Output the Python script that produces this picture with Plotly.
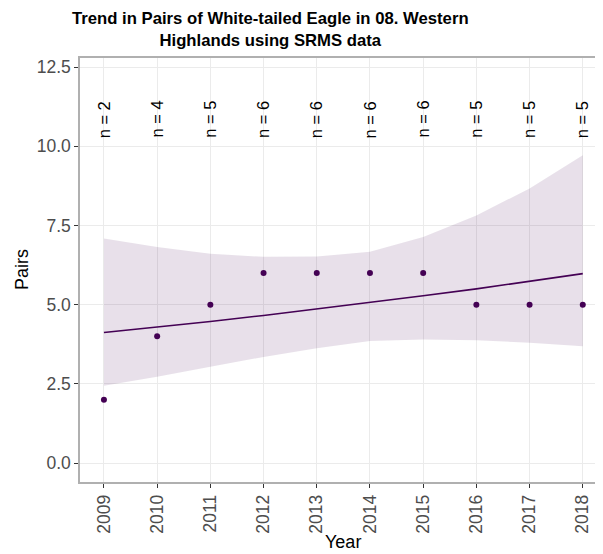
import plotly.graph_objects as go

years = [2009, 2010, 2011, 2012, 2013, 2014, 2015, 2016, 2017, 2018]
pairs = [2, 4, 5, 6, 6, 6, 6, 5, 5, 5]
n_labels = ["n = 2", "n = 4", "n = 5", "n = 6", "n = 6", "n = 6", "n = 6", "n = 5", "n = 5", "n = 5"]
fit = [4.12, 4.29, 4.47, 4.66, 4.86, 5.06, 5.28, 5.50, 5.73, 5.98]
ci_low = [2.44, 2.72, 3.04, 3.35, 3.62, 3.85, 3.90, 3.88, 3.80, 3.69]
ci_high = [7.09, 6.82, 6.61, 6.51, 6.52, 6.67, 7.14, 7.82, 8.67, 9.72]
n_label_y = 10.85

purple = "#440154"
font_family = "Liberation Sans, Arial, Helvetica, sans-serif"

OFF = 8  # page body margin
W, H = 603 - OFF, 554 - OFF
L, R, T, B = 80 - OFF, 0, 58 - OFF, 72
PW, PH = W - L - R, H - T - B


def px_to_paper_x(px):
    return (px - OFF - L) / PW


def px_to_paper_y(py):
    return (H - B - (py - OFF)) / PH


fig = go.Figure()
fig.add_trace(go.Scatter(x=years, y=ci_high, mode="lines", line=dict(width=0),
                         hoverinfo="skip", showlegend=False))
fig.add_trace(go.Scatter(x=years, y=ci_low, mode="lines", line=dict(width=0),
                         fill="tonexty", fillcolor="rgba(68,1,84,0.12)",
                         hoverinfo="skip", showlegend=False))
fig.add_trace(go.Scatter(x=years, y=fit, mode="lines", line=dict(color=purple, width=1.6),
                         showlegend=False))
fig.add_trace(go.Scatter(x=years, y=pairs, mode="markers",
                         marker=dict(color=purple, size=6), showlegend=False))

for yr, lab in zip(years, n_labels):
    fig.add_annotation(x=yr, y=n_label_y, text=lab, showarrow=False, textangle=-90,
                       xanchor="center", yanchor="middle",
                       font=dict(size=16.5, color="black", family=font_family),
                       xref="x", yref="y")

fig.add_annotation(x=px_to_paper_x(343), y=px_to_paper_y(542), xref="paper", yref="paper",
                   text="Year", showarrow=False, xanchor="center", yanchor="middle",
                   font=dict(size=18, color="black", family=font_family))
fig.add_annotation(x=px_to_paper_x(22), y=px_to_paper_y(270), xref="paper", yref="paper",
                   text="Pairs", showarrow=False, textangle=-90,
                   xanchor="center", yanchor="middle",
                   font=dict(size=18, color="black", family=font_family))
fig.add_annotation(x=px_to_paper_x(270), y=px_to_paper_y(29.5), xref="paper", yref="paper",
                   text="<b>Trend in Pairs of White-tailed Eagle in 08. Western<br>Highlands using SRMS data</b>",
                   showarrow=False, align="center", xanchor="center", yanchor="middle",
                   font=dict(size=16.7, color="black", family=font_family))

fig.update_layout(
    width=W, height=H,
    margin=dict(l=L, r=R, t=T, b=B, autoexpand=False),
    paper_bgcolor="white", plot_bgcolor="white",
    font=dict(family=font_family),
)
fig.update_xaxes(range=[2008.55, 2018.38], tickmode="array", tickvals=years,
                 ticktext=[str(y) for y in years], tickangle=-90,
                 tickfont=dict(size=17.5, color="#4d4d4d"), automargin=False,
                 showgrid=True, gridcolor="#ebebeb", gridwidth=1,
                 showline=True, linecolor="#b0b0b0", linewidth=1.5, mirror=True,
                 ticks="outside", ticklen=4, tickcolor="#333333", zeroline=False)
fig.update_yaxes(range=[-0.6, 12.79], tickmode="array",
                 tickvals=[0, 2.5, 5, 7.5, 10, 12.5],
                 ticktext=["0.0", "2.5", "5.0", "7.5", "10.0", "12.5"],
                 tickfont=dict(size=17.5, color="#4d4d4d"), automargin=False,
                 showgrid=True, gridcolor="#ebebeb", gridwidth=1,
                 showline=True, linecolor="#b0b0b0", linewidth=1.5, mirror=True,
                 ticks="outside", ticklen=4, tickcolor="#333333", zeroline=False)

fig.write_html("out.html")
